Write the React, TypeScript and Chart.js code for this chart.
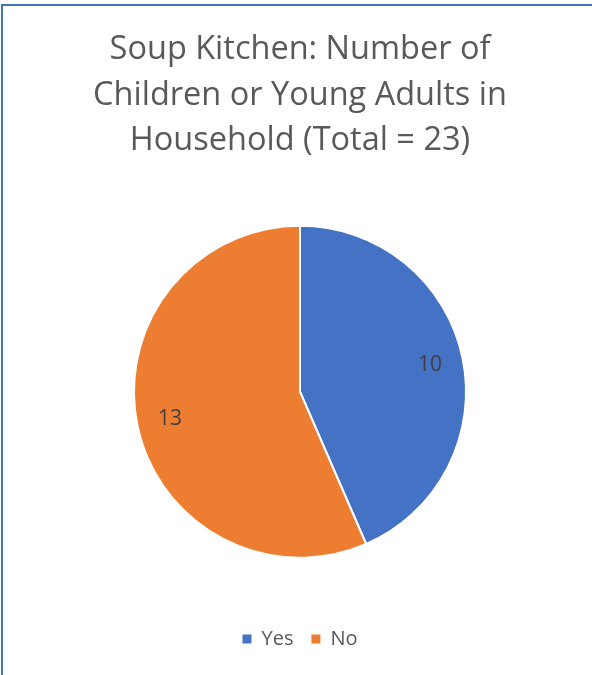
import { useEffect, useRef } from "react";
import { Chart, registerables } from "chart.js";

Chart.register(...registerables);

const categories: string[] = ["Yes", "No"];
const counts: number[] = [10, 13];
const titleLines: string[] = [
  "Soup Kitchen: Number of",
  "Children or Young Adults in",
  "Household (Total = 23)",
];
const sliceColors: string[] = ["#4472C4", "#ED7D31"];

const FONT = "'Open Sans', Lato, sans-serif";

const dataLabelPlugin = {
  id: "sliceValueLabels",
  afterDatasetsDraw(chart: any) {
    const { ctx } = chart;
    const meta = chart.getDatasetMeta(0);
    const values = chart.data.datasets[0].data as number[];
    ctx.save();
    ctx.font = `21px ${FONT}`;
    ctx.fillStyle = "#404040";
    ctx.textAlign = "center";
    ctx.textBaseline = "middle";
    meta.data.forEach((arc: any, i: number) => {
      const { x, y, startAngle, endAngle, outerRadius } = arc.getProps(
        ["x", "y", "startAngle", "endAngle", "outerRadius"],
        true
      );
      const mid = (startAngle + endAngle) / 2;
      const r = outerRadius * 0.8;
      ctx.fillText(String(values[i]), x + Math.cos(mid) * r, y + Math.sin(mid) * r);
    });
    ctx.restore();
  },
};

export default function App() {
  const canvasRef = useRef<HTMLCanvasElement | null>(null);

  useEffect(() => {
    if (!canvasRef.current) return;
    const chart = new Chart(canvasRef.current, {
      type: "pie",
      data: {
        labels: categories,
        datasets: [
          {
            data: counts,
            backgroundColor: sliceColors,
            borderColor: "#ffffff",
            borderWidth: 2,
            radius: 166,
          } as any,
        ],
      },
      options: {
        animation: false,
        responsive: false,
        layout: { padding: { left: 8, right: 0, top: 0, bottom: 16 } },
        plugins: {
          title: {
            display: true,
            text: titleLines,
            color: "#595959",
            font: { family: FONT, size: 32.5, weight: "normal", lineHeight: 1.4 },
            padding: { top: 27, bottom: 9 },
          },
          legend: {
            display: true,
            position: "bottom",
            labels: {
              color: "#595959",
              font: { family: FONT, size: 20 },
              boxWidth: 9,
              boxHeight: 9,
              padding: 18,
              generateLabels: (c: any) => {
                const base = (Chart as any).overrides.pie.plugins.legend.labels.generateLabels(c);
                return base.map((it: any) => ({ ...it, lineWidth: 0, strokeStyle: it.fillStyle }));
              },
            },
          },
          tooltip: { enabled: false },
        },
      },
      plugins: [dataLabelPlugin],
    });
    return () => chart.destroy();
  }, []);

  return (
    <div
      style={{
        position: "absolute",
        left: 0,
        top: 0,
        width: 592,
        height: 675,
        overflow: "hidden",
        background: "#ffffff",
      }}
    >
      <div
        style={{
          position: "absolute",
          left: 1,
          top: 4,
          width: 700,
          height: 800,
          border: "2px solid #4472C4",
          boxSizing: "border-box",
        }}
      />
      <canvas
        ref={canvasRef}
        width={592}
        height={675}
        style={{ position: "absolute", left: 0, top: 0, width: 592, height: 675 }}
      />
    </div>
  );
}
